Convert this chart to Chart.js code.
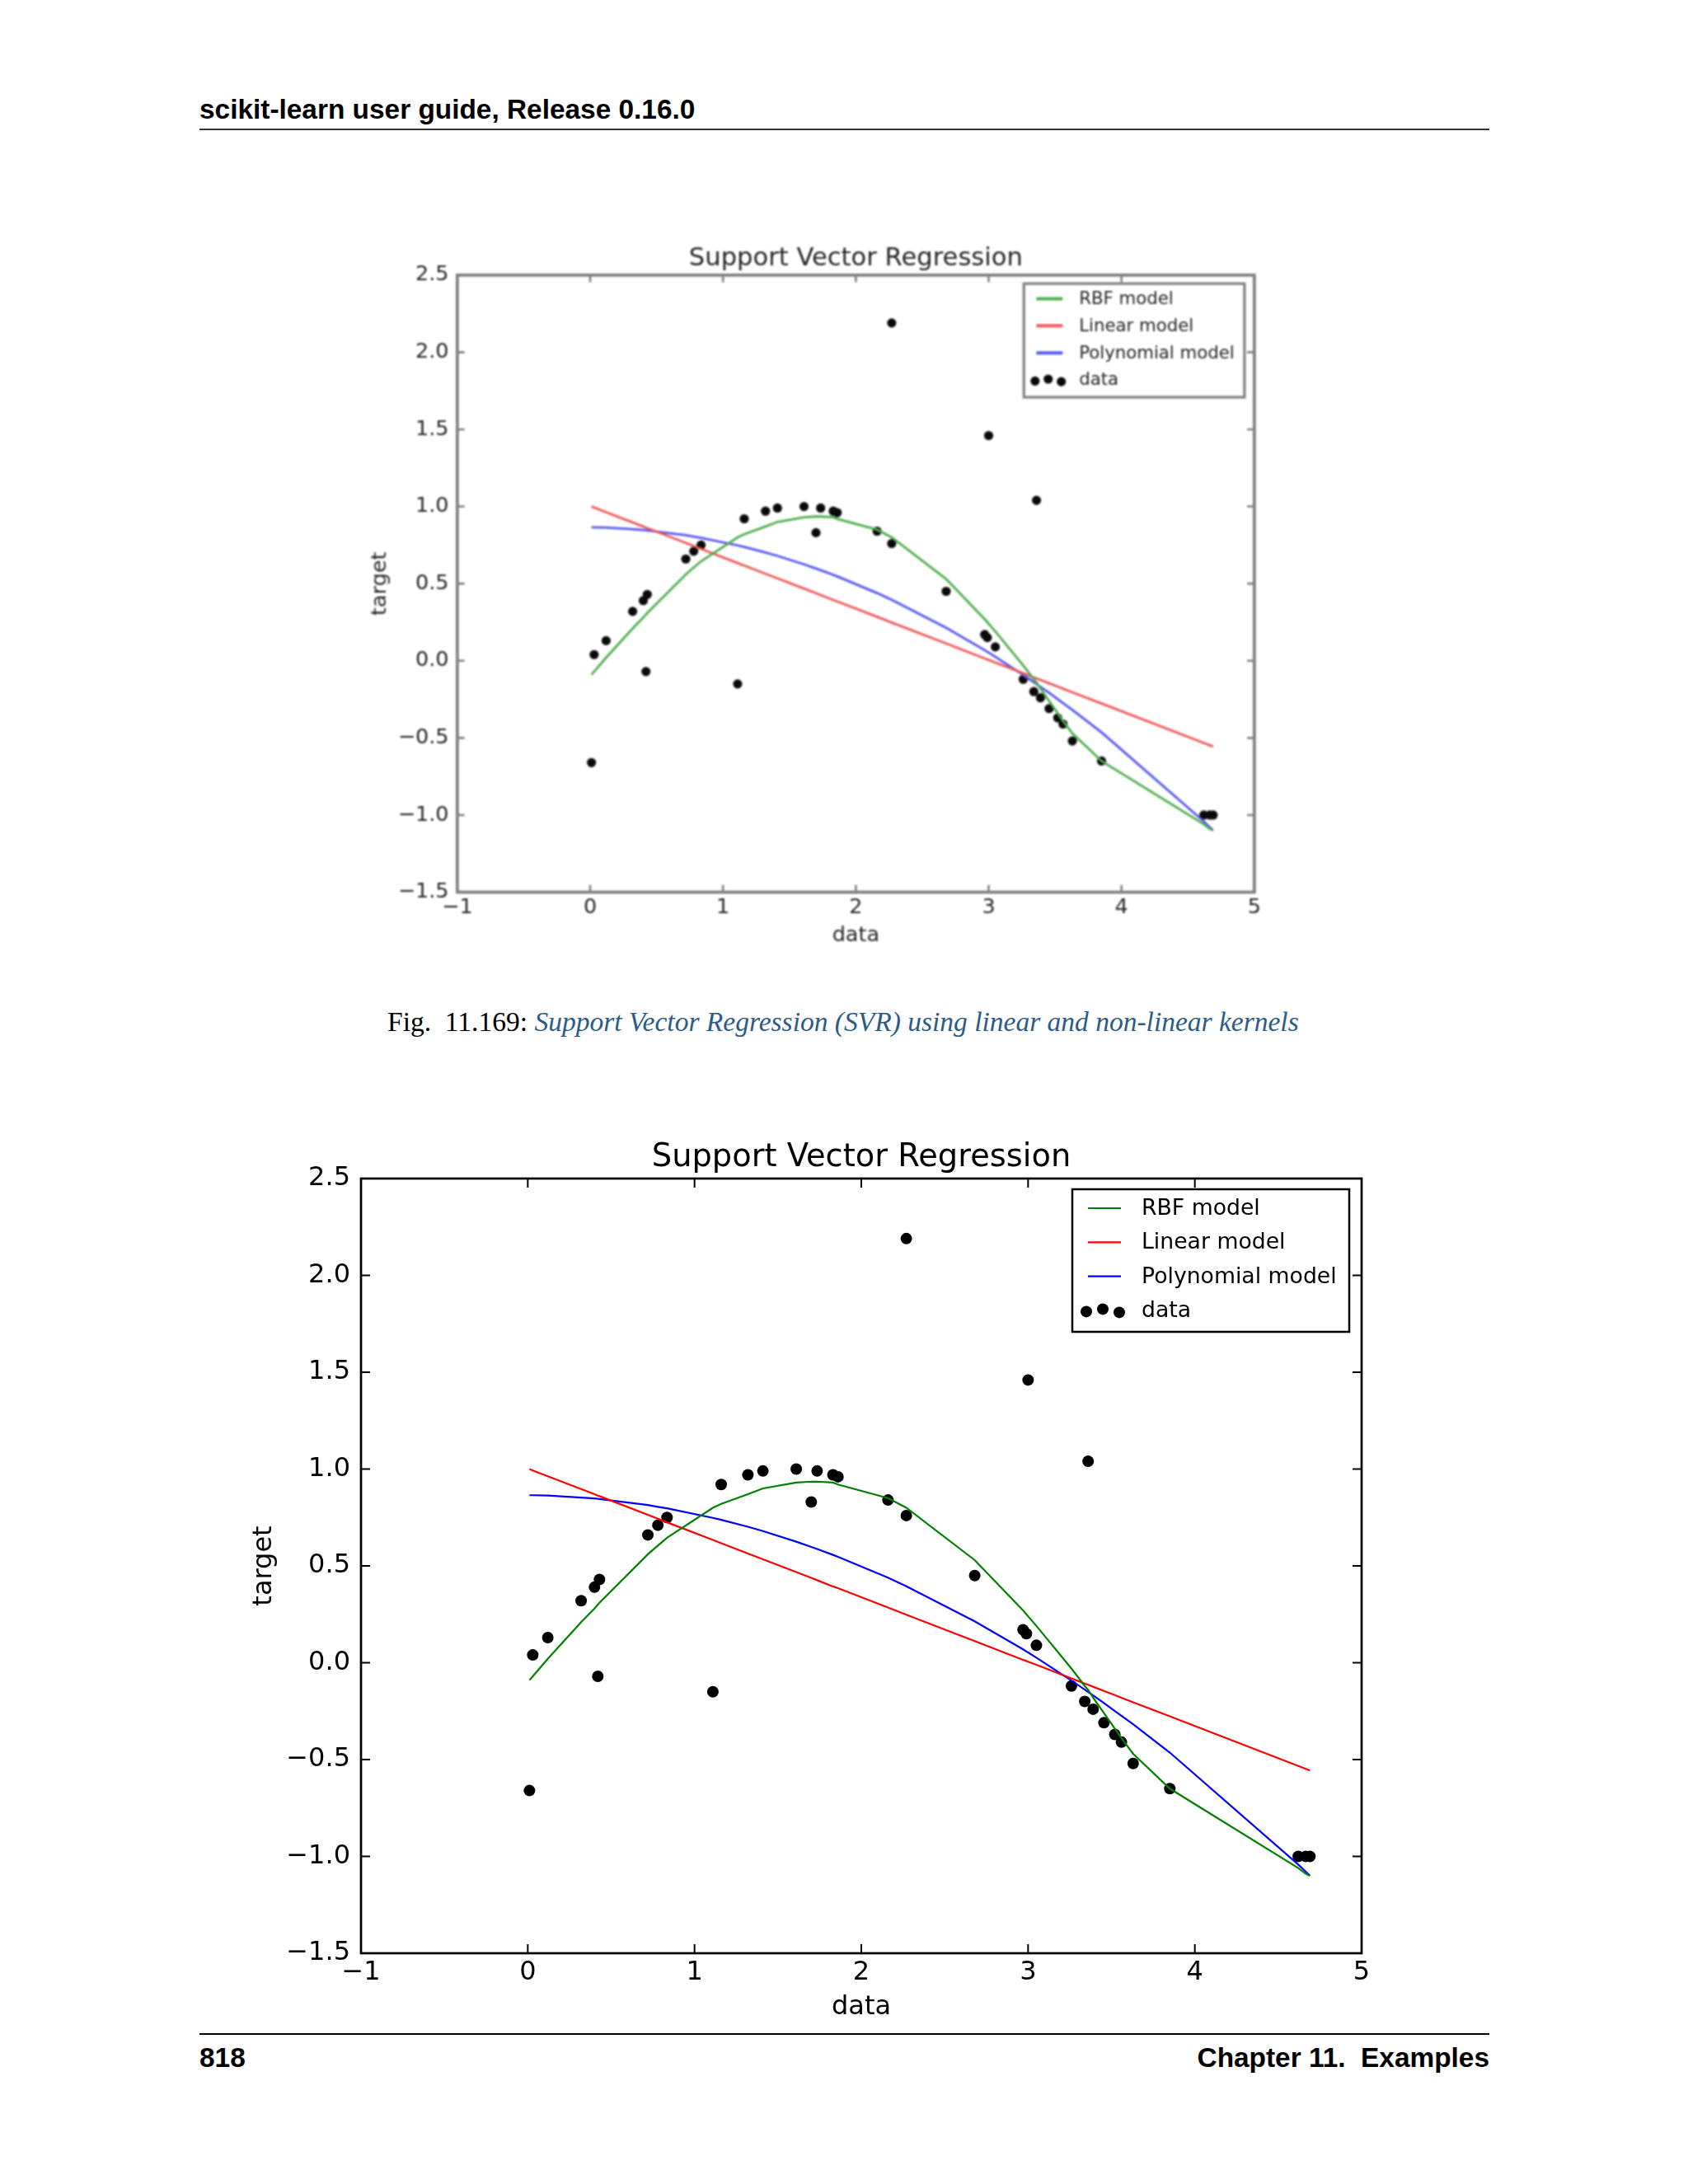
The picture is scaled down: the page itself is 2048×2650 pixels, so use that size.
<!DOCTYPE html>
<html><head><meta charset="utf-8">
<script src="https://cdn.jsdelivr.net/npm/chart.js@4.4.1/dist/chart.umd.min.js"></script>
<style>
html,body{margin:0;padding:0;background:#fff;}
body{width:2048px;height:2650px;position:relative;overflow:hidden;}
.t{position:absolute;white-space:pre;}
.hdr{font-family:"Liberation Sans",Arial,sans-serif;font-weight:bold;font-size:33.4px;line-height:40px;color:#000;}
canvas{position:absolute;}
</style></head><body>
<div class="t hdr" style="left:242px;top:113px;">scikit-learn user guide, Release 0.16.0</div>
<div style="position:absolute;left:242px;top:156px;width:1565px;height:2px;background:#333"></div>
<canvas id="c1"></canvas>
<div class="t" style="left:470px;top:1220px;font-family:'Liberation Serif',serif;font-size:33.5px;line-height:40px;color:#000;">Fig.  11.169: <span style="font-style:italic;color:#2d5b85">Support Vector Regression (SVR) using linear and non-linear kernels</span></div>
<canvas id="c2"></canvas>
<div style="position:absolute;left:242px;top:2467px;width:1565px;height:2px;background:#000"></div>
<div class="t hdr" style="left:242px;top:2477px;">818</div>
<div class="t hdr" style="right:241px;top:2477px;">Chapter 11.  Examples</div>
<script>
// ---- data ----
const dataX = [0.01,0.03,0.12,0.32,0.40,0.42,0.43,0.72,0.78,0.835,1.11,1.16,1.32,1.41,1.61,1.70,1.735,1.83,1.86,2.16,2.27,2.27,2.68,2.97,2.99,3.00,3.05,3.26,3.34,3.36,3.39,3.455,3.52,3.56,3.63,3.85,4.62,4.665,4.69];
const dataY = [-0.66,0.04,0.13,0.32,0.39,-0.07,0.43,0.66,0.71,0.75,-0.15,0.92,0.97,0.99,1.00,0.83,0.99,0.97,0.96,0.84,2.19,0.76,0.45,0.17,0.15,1.46,0.09,-0.12,-0.20,1.04,-0.24,-0.31,-0.37,-0.41,-0.52,-0.65,-1.00,-1.00,-1.00];
const rbfY = [-0.09,-0.07,0.02,0.21,0.28,0.30,0.31,0.56,0.605,0.645,0.80,0.82,0.87,0.90,0.93,0.935,0.935,0.93,0.92,0.85,0.80,0.80,0.53,0.27,0.25,0.24,0.19,-0.03,-0.12,-0.14,-0.18,-0.26,-0.34,-0.39,-0.47,-0.65,-1.06,-1.09,-1.10];
const linY = [1.000,0.993,0.963,0.897,0.870,0.863,0.860,0.764,0.744,0.725,0.634,0.617,0.564,0.534,0.468,0.438,0.426,0.394,0.385,0.285,0.248,0.248,0.112,0.015,0.009,0.005,-0.011,-0.081,-0.108,-0.114,-0.124,-0.146,-0.167,-0.181,-0.204,-0.277,-0.533,-0.548,-0.556];
const polyY = [0.865,0.865,0.863,0.853,0.848,0.846,0.845,0.814,0.805,0.797,0.748,0.738,0.702,0.680,0.625,0.598,0.587,0.557,0.547,0.439,0.395,0.395,0.214,0.069,0.058,0.053,0.026,-0.092,-0.139,-0.151,-0.169,-0.208,-0.249,-0.274,-0.318,-0.464,-1.042,-1.079,-1.099];
const seriesNames = ['RBF model','Linear model','Polynomial model','data'];
const xTickValues = [-1,0,1,2,3,4,5];
const xTickLabels = ['\u22121','0','1','2','3','4','5'];
const yTickValues = [-1.5,-1.0,-0.5,0,0.5,1.0,1.5,2.0,2.5];
const yTickLabels = ['\u22121.5','\u22121.0','\u22120.5','0.0','0.5','1.0','1.5','2.0','2.5'];
const chartTitle = 'Support Vector Regression';
const xTitle = 'data', yTitle = 'target';

function pts(ys){ return dataX.map((x,i)=>({x:x, y:ys[i]})); }

function makeChart(id, left, top, s, st){
  const W = Math.round(1530*s), H = Math.round(1090*s);
  const cv = document.getElementById(id);
  cv.width = W; cv.height = H;
  cv.style.left = left+'px'; cv.style.top = top+'px';
  cv.style.width = W+'px'; cv.style.height = H+'px';
  if (st.filter) cv.style.filter = st.filter;
  const fam = 'DejaVu Sans';
  const fTick = {family: fam, size: 32*s};
  const frame = {
    id: 'frame',
    afterDatasetsDraw(chart){
      const {ctx, chartArea: a, scales} = chart;
      ctx.save();
      ctx.strokeStyle = st.frame; ctx.lineWidth = st.tickW;
      const L = 11*s;
      ctx.beginPath();
      scales.x.ticks.forEach(t => { const p = scales.x.getPixelForValue(t.value);
        ctx.moveTo(p, a.bottom); ctx.lineTo(p, a.bottom - L);
        ctx.moveTo(p, a.top); ctx.lineTo(p, a.top + L); });
      scales.y.ticks.forEach(t => { const p = scales.y.getPixelForValue(t.value);
        ctx.moveTo(a.left, p); ctx.lineTo(a.left + L, p);
        ctx.moveTo(a.right, p); ctx.lineTo(a.right - L, p); });
      ctx.stroke();
      ctx.lineWidth = st.frameW;
      ctx.strokeRect(a.left, a.top, a.right - a.left, a.bottom - a.top);
      ctx.restore();
    }
  };
  const legendBox = {
    id: 'legendBox',
    afterDraw(chart){
      const {ctx, chartArea: a} = chart;
      const w = 336*s, h = 173*s;
      const x0 = a.right - 15*s - w, y0 = a.top + 13*s;
      ctx.save();
      ctx.fillStyle = '#fff'; ctx.fillRect(x0, y0, w, h);
      ctx.strokeStyle = st.frame; ctx.lineWidth = st.legendW; ctx.strokeRect(x0, y0, w, h);
      ctx.font = (26.7*s) + 'px "DejaVu Sans"'; ctx.textBaseline = 'middle'; ctx.fillStyle = st.text;
      chart.data.datasets.forEach((ds, i) => {
        const cy = y0 + (23 + 41.3*i)*s;
        if (ds.showLine){
          ctx.strokeStyle = ds.borderColor; ctx.lineWidth = st.legLineW;
          ctx.beginPath(); ctx.moveTo(x0 + 19*s, cy); ctx.lineTo(x0 + 59*s, cy); ctx.stroke();
        } else {
          ctx.fillStyle = ds.backgroundColor;
          [[17,1.5],[37,-1.5],[57,2.5]].forEach(d => { ctx.beginPath(); ctx.arc(x0 + d[0]*s, cy + d[1]*s, ds.pointRadius, 0, Math.PI*2); ctx.fill(); });
          ctx.fillStyle = st.text;
        }
        ctx.fillText(ds.label, x0 + 84*s, cy + 1*s);
      });
      ctx.restore();
    }
  };
  const lineDs = (label, ys, color) => ({label, data: pts(ys), showLine: true, borderColor: color, borderWidth: st.lineW, pointRadius: 0, pointHoverRadius: 0, fill: false, tension: 0});
  return new Chart(cv, {
    type: 'scatter',
    data: {datasets: [
      lineDs(seriesNames[0], rbfY, st.green),
      lineDs(seriesNames[1], linY, st.red),
      lineDs(seriesNames[2], polyY, st.blue),
      {label: seriesNames[3], data: pts(dataY), showLine: false, pointRadius: 7*s, pointHoverRadius: 7*s, backgroundColor: st.dot, borderColor: st.dot, borderWidth: 0}
    ]},
    options: {
      responsive: false, animation: false, devicePixelRatio: 1,
      events: [],
      layout: {padding: {left: 0, top: 0, right: W - 158*s - 1214*s, bottom: H - 1085*s}},
      plugins: {
        legend: {display: false}, tooltip: {enabled: false},
        title: {display: true, fullSize: false, text: chartTitle, color: st.text, font: {family: fam, size: 38.4*s, weight: 'normal', lineHeight: 1.2}, padding: {top: 12*s, bottom: 1.92*s}}
      },
      scales: {
        x: {type: 'linear', min: -1, max: 5,
          afterBuildTicks: sc => { sc.ticks = xTickValues.map(v => ({value: v})); },
          ticks: {callback: (v, i) => xTickLabels[i], font: fTick, color: st.text, padding: 4*s, maxRotation: 0, autoSkip: false},
          grid: {display: false, drawTicks: false}, border: {display: false},
          title: {display: true, text: xTitle, color: st.text, font: {family: fam, size: 32*s, lineHeight: 1.2}, padding: {top: 0, bottom: 0}},
          afterFit: sc => { sc.height = 85*s; }
        },
        y: {type: 'linear', min: -1.5, max: 2.5,
          afterBuildTicks: sc => { sc.ticks = yTickValues.map(v => ({value: v})); },
          ticks: {callback: (v, i) => yTickLabels[i], font: fTick, color: st.text, padding: 13*s, autoSkip: false},
          grid: {display: false, drawTicks: false}, border: {display: false},
          title: {display: true, text: yTitle, color: st.text, font: {family: fam, size: 32*s, lineHeight: 1.2}, padding: {top: 21*s, bottom: 0}},
          afterFit: sc => { sc.width = 158*s; }
        }
      }
    },
    plugins: [frame, legendBox]
  });
}

const sUp = 967/1214;
makeChart('c1', 555 - 158*sUp, 334 - 60*sUp, sUp, {
  text: '#262626', frame: '#808080', frameW: 3.8, tickW: 2.6, legendW: 3.2, legLineW: 4,
  green: '#4fae4f', red: '#f05858', blue: '#5656f0', dot: '#0a0a0a', lineW: 2.8, filter: 'blur(0.9px)'
});
makeChart('c2', 280, 1370, 1, {
  text: '#000', frame: '#000', frameW: 2.7, tickW: 2, legendW: 2.5, legLineW: 2.2,
  green: '#008000', red: '#ff0000', blue: '#0000ff', dot: '#000', lineW: 2.2
});
</script>
</body></html>
